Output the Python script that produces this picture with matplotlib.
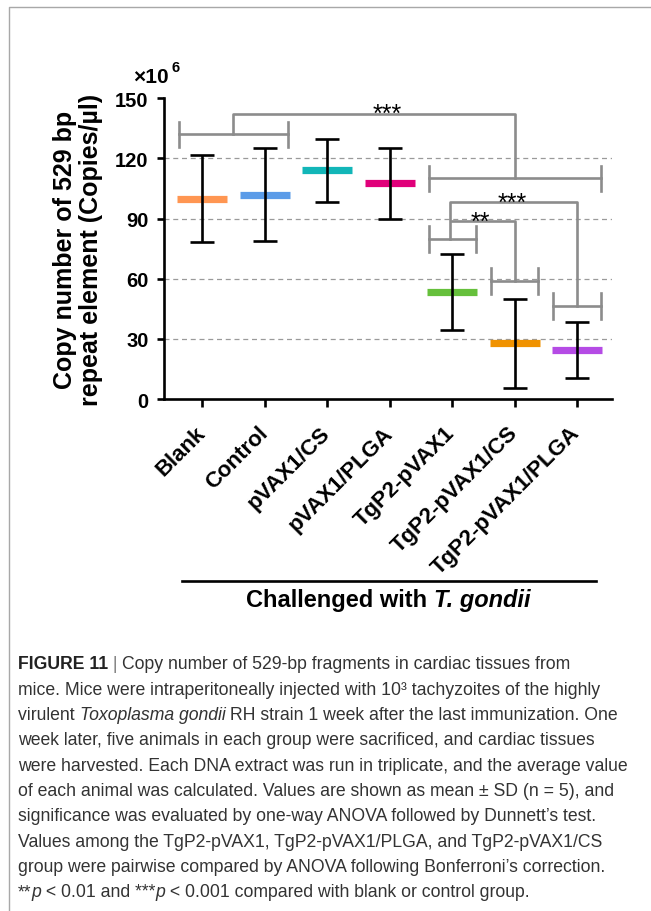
import numpy as np
import matplotlib
matplotlib.use('Agg')
import matplotlib.pyplot as plt
from matplotlib import font_manager

groups = ['Blank', 'Control', 'pVAX1/CS', 'pVAX1/PLGA',
          'TgP2-pVAX1', 'TgP2-pVAX1/CS', 'TgP2-pVAX1/PLGA']
means = [100, 102, 114, 107.5, 53.3, 27.7, 24.5]
sds = [21.5, 23, 15.5, 17.5, 18.8, 22.3, 13.8]
colors = ['#FF9652', '#5B9CE8', '#12B6B8', '#E0007A',
          '#66C03C', '#F09200', '#B54BE5']
yticks = [0, 30, 60, 90, 120, 150]


def has_font(name):
    try:
        font_manager.findfont(name, fallback_to_default=False)
        return True
    except Exception:
        return False


main_font = 'Liberation Sans' if has_font('Liberation Sans') else 'DejaVu Sans'
cap_font = 'Liberation Sans Narrow' if has_font('Liberation Sans Narrow') else main_font
plt.rcParams['font.family'] = [main_font, 'DejaVu Sans']

fig = plt.figure(figsize=(6.51, 9.12), dpi=100)
W, H = 651, 912
ax = fig.add_axes([164 / W, 1 - 400 / H, 448 / W, 300.7 / H])
renderer = fig.canvas.get_renderer()

x = np.arange(len(groups))
for xi, m, c in zip(x, means, colors):
    ax.hlines(m, xi - 0.4, xi + 0.4, colors=c, lw=5.2, zorder=3)
ax.errorbar(x, means, yerr=sds, fmt='none', ecolor='black', elinewidth=1.9,
            capsize=8.6, capthick=1.9, zorder=4)

for g in yticks[1:-1]:
    ax.axhline(g, color='#9a9a9a', lw=0.9, ls=(0, (4, 3)), zorder=1)

ax.set_xlim(-0.61, 6.56)
ax.set_ylim(0, 150)
ax.set_yticks(yticks)
ax.set_xticks(x)
ax.set_xticklabels(groups, rotation=45, ha='right', va='center',
                   rotation_mode='anchor', fontsize=16, fontweight='bold')
for lab in ax.get_yticklabels():
    lab.set_fontweight('bold')
ax.tick_params(axis='y', labelsize=14.5, width=1.9, length=5, pad=6)
ax.tick_params(axis='x', width=1.9, length=6, pad=16)
for s in ['top', 'right']:
    ax.spines[s].set_visible(False)
for s in ['left', 'bottom']:
    ax.spines[s].set_linewidth(1.9)

# significance brackets
bc = '#8c8c8c'
blw = 1.9


def group_bar(x0, x1, y, h=6.4):
    ax.plot([x0, x1], [y, y], color=bc, lw=blw, clip_on=False, zorder=2)
    for xx in (x0, x1):
        ax.plot([xx, xx], [y - h, y + h], color=bc, lw=blw, clip_on=False, zorder=2)


def link(xs, ys):
    ax.plot(xs, ys, color=bc, lw=blw, clip_on=False, zorder=2)


group_bar(-0.37, 1.38, 132)
group_bar(3.63, 6.38, 110)
link([0.5, 0.5, 5.0, 5.0], [132, 142.3, 142.3, 110])
ax.text(2.96, 142.3, '***', ha='center', va='center', fontsize=18, clip_on=False)

group_bar(3.63, 4.38, 79.7)
group_bar(4.62, 5.38, 59)
group_bar(5.62, 6.38, 46.5)
link([3.96, 3.96, 6.0, 6.0], [79.7, 98.3, 98.3, 46.5])
link([4.0, 5.0, 5.0], [88.8, 88.8, 59])
ax.text(4.96, 98.0, '***', ha='center', va='center', fontsize=18)
ax.text(4.45, 88.6, '**', ha='center', va='center', fontsize=18)

# axis labels
fig.text(78 / W, 1 - 250 / H, 'Copy number of 529 bp\nrepeat element (Copies/µl)',
         rotation=90, ha='center', va='center', fontsize=18, fontweight='bold',
         linespacing=1.1, multialignment='center')
fig.text(133 / W, 1 - 83 / H, '×10', fontsize=15, fontweight='bold', ha='left', va='baseline')
fig.text(172 / W, 1 - 72 / H, '6', fontsize=10.5, fontweight='bold', ha='left', va='baseline')

fig.add_artist(plt.Line2D([182 / W, 596 / W], [1 - 582 / H, 1 - 582 / H],
                          color='black', lw=1.9))
t1 = fig.text(0, 1 - 601 / H, 'Challenged with ', ha='left', va='center',
              fontsize=17, fontweight='bold')
t2 = fig.text(0, 1 - 601 / H, 'T. gondii', ha='left', va='center',
              fontsize=17, fontweight='bold', style='italic')
w1 = t1.get_window_extent(renderer).width
w2 = t2.get_window_extent(renderer).width
xs = 388 - (w1 + w2) / 2
t1.set_x(xs / W)
t2.set_x((xs + w1) / W)

# frame
fig.add_artist(plt.Line2D([9 / W, 9 / W, 1], [0, 1 - 8 / H, 1 - 8 / H],
                          color='#a8a8a8', lw=1.0))

# caption
cap_lines = [
    [('FIGURE 11', 'bold'), (' | ', 'sep'), ('Copy number of 529-bp fragments in cardiac tissues from', 'n')],
    [('mice. Mice were intraperitoneally injected with 10³ tachyzoites of the highly', 'n')],
    [('virulent ', 'n'), ('Toxoplasma gondii', 'i'), (' RH strain 1 week after the last immunization. One', 'n')],
    [('week later, five animals in each group were sacrificed, and cardiac tissues', 'n')],
    [('were harvested. Each DNA extract was run in triplicate, and the average value', 'n')],
    [('of each animal was calculated. Values are shown as mean ± SD (n = 5), and', 'n')],
    [('significance was evaluated by one-way ANOVA followed by Dunnett’s test.', 'n')],
    [('Values among the TgP2-pVAX1, TgP2-pVAX1/PLGA, and TgP2-pVAX1/CS', 'n')],
    [('group were pairwise compared by ANOVA following Bonferroni’s correction.', 'n')],
    [('**', 'n'), ('p', 'i'), (' < 0.01 and ***', 'n'), ('p', 'i'), (' < 0.001 compared with blank or control group.', 'n')],
]


def draw_caption(size, draw=True):
    widest = 0
    arts = []
    for k, segs in enumerate(cap_lines):
        xp = 18
        yy = 1 - (665 + k * 25.3) / H
        for txt, st in segs:
            kw = dict(fontsize=size, family=[cap_font, 'DejaVu Sans'], color='#333333',
                      ha='left', va='center')
            if st == 'bold':
                kw.update(fontweight='bold', color='#222222')
            elif st == 'i':
                kw.update(style='italic')
            elif st == 'sep':
                kw.update(color='#777777')
            t = fig.text(xp / W, yy, txt, **kw)
            xp += t.get_window_extent(renderer).width
            arts.append(t)
        widest = max(widest, xp)
    if not draw:
        for t in arts:
            t.remove()
    return widest


base = 14.0
wmax = draw_caption(base, draw=False)
cap_size = base * (632 - 18) / (wmax - 18)
draw_caption(cap_size)

fig.savefig('out.png', dpi=100)
